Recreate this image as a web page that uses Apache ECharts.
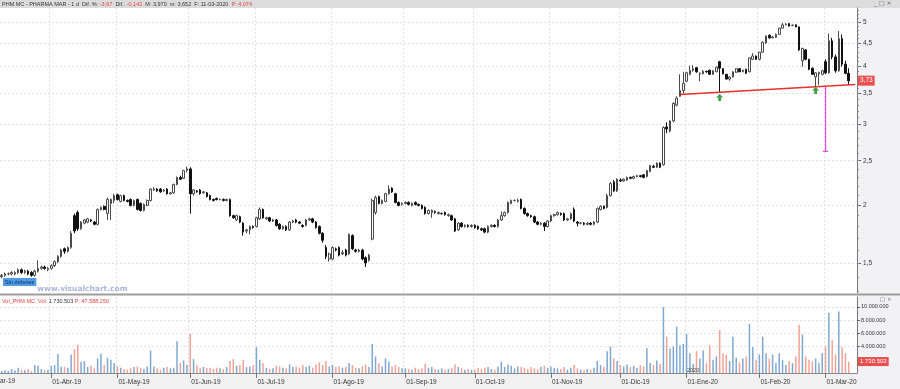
<!DOCTYPE html>
<html><head><meta charset="utf-8">
<script src="https://cdn.jsdelivr.net/npm/echarts@6/dist/echarts.min.js"></script>
<style>html,body{margin:0;padding:0;background:#fff}#c{width:900px;height:389px}</style>
</head><body><div id="c"></div>
<script>
// ---- candles: [open, close, low, high] per trading day ----
const candlesMar19 = [
[1.40,1.41,1.39,1.42],[1.41,1.42,1.40,1.43],[1.42,1.42,1.41,1.43],[1.42,1.43,1.41,1.44],[1.42,1.43,1.41,1.44],
[1.43,1.45,1.42,1.46],[1.45,1.43,1.42,1.46],[1.43,1.44,1.42,1.45],[1.44,1.42,1.41,1.45],[1.43,1.41,1.40,1.44],
[1.41,1.44,1.40,1.45],[1.44,1.46,1.43,1.52],[1.46,1.47,1.45,1.48],[1.47,1.46,1.45,1.48],[1.45,1.46,1.44,1.47]];
const candlesApr19 = [
[1.46,1.48,1.45,1.49],[1.48,1.51,1.47,1.52],[1.51,1.55,1.50,1.56],[1.55,1.60,1.54,1.61],[1.61,1.59,1.57,1.62],
[1.59,1.62,1.58,1.63],[1.62,1.74,1.61,1.76],[1.90,1.76,1.74,1.92],[1.93,1.78,1.76,1.95],[1.78,1.84,1.77,1.85],
[1.83,1.86,1.82,1.87],[1.84,1.87,1.83,1.88],[1.86,1.85,1.84,1.87],[1.84,1.82,1.81,1.85],[1.82,1.96,1.81,1.97],
[1.96,1.98,1.95,1.99],[1.99,1.96,1.95,2.00],[1.92,2.06,1.86,2.08],[2.02,2.06,1.86,2.07],[2.05,2.10,2.02,2.12]];
const candlesMay19 = [
[2.11,2.06,2.05,2.12],[2.04,2.10,2.03,2.11],[2.10,2.05,2.04,2.11],[2.05,2.04,2.03,2.06],[2.06,2.00,1.99,2.07],
[2.00,2.05,1.99,2.06],[2.06,1.96,1.95,2.07],[2.02,1.95,1.94,2.03],[1.95,2.01,1.94,2.02],[2.00,2.05,1.99,2.06],
[2.05,2.17,2.04,2.18],[2.16,2.17,2.15,2.19],[2.17,2.15,2.14,2.18],[2.17,2.14,2.13,2.18],[2.15,2.16,2.14,2.17],
[2.17,2.12,2.11,2.18],[2.12,2.13,2.11,2.14],[2.13,2.22,2.12,2.23],[2.22,2.30,2.21,2.31],[2.30,2.28,2.27,2.32],
[2.29,2.38,2.28,2.39],[2.38,2.40,2.36,2.43]];
const candlesJun19 = [
[2.40,2.12,1.92,2.42],[2.12,2.16,2.10,2.17],[2.15,2.14,2.13,2.16],[2.16,2.12,2.11,2.17],[2.13,2.14,2.12,2.15],
[2.13,2.09,2.08,2.14],[2.10,2.06,2.05,2.11],[2.06,2.05,2.04,2.07],[2.07,2.06,2.05,2.08],[2.06,2.06,2.05,2.07],
[2.06,2.05,2.04,2.07],[2.05,2.06,2.04,2.07],[2.06,1.90,1.89,2.07],[1.90,1.88,1.87,1.91],[1.86,1.90,1.85,1.91],
[1.89,1.84,1.83,1.90],[1.83,1.75,1.72,1.84],[1.76,1.77,1.74,1.78],[1.77,1.80,1.73,1.81],[1.80,1.79,1.78,1.81]];
const candlesJul19 = [
[1.80,1.88,1.79,1.89],[1.87,1.96,1.86,1.98],[1.96,1.88,1.87,1.97],[1.87,1.88,1.86,1.89],[1.88,1.85,1.84,1.89],
[1.85,1.86,1.84,1.87],[1.86,1.81,1.80,1.87],[1.82,1.78,1.77,1.83],[1.78,1.80,1.77,1.81],[1.80,1.77,1.76,1.81],
[1.77,1.84,1.76,1.85],[1.84,1.85,1.83,1.86],[1.86,1.84,1.83,1.87],[1.84,1.83,1.82,1.85],[1.81,1.80,1.79,1.82],
[1.81,1.86,1.80,1.87],[1.86,1.87,1.85,1.88],[1.87,1.84,1.83,1.88],[1.84,1.79,1.78,1.85],[1.80,1.74,1.73,1.81],
[1.74,1.68,1.66,1.75],[1.62,1.55,1.53,1.64],[1.53,1.57,1.51,1.58]];
const candlesAug19 = [
[1.53,1.62,1.52,1.63],[1.61,1.60,1.59,1.62],[1.62,1.56,1.55,1.63],[1.57,1.58,1.56,1.60],[1.60,1.56,1.55,1.61],
[1.57,1.73,1.56,1.74],[1.72,1.61,1.60,1.73],[1.60,1.59,1.58,1.61],[1.59,1.60,1.58,1.61],[1.60,1.53,1.52,1.61],
[1.54,1.50,1.47,1.55],[1.52,1.56,1.51,1.57],[1.69,2.05,1.68,2.07],[1.93,2.08,1.91,2.10],[2.09,2.02,2.01,2.10],
[2.02,2.05,2.01,2.06],[2.04,2.12,2.03,2.13],[2.12,2.17,2.11,2.21],[2.18,2.14,2.13,2.19],[2.12,2.03,2.02,2.13],
[2.03,2.00,1.99,2.04],[2.01,2.02,2.00,2.03]];
const candlesSep19 = [
[2.02,2.03,2.01,2.04],[2.03,2.01,2.00,2.04],[2.00,2.02,1.99,2.03],[2.03,2.01,2.00,2.04],[2.01,2.00,1.99,2.02],
[2.00,1.97,1.96,2.01],[1.98,1.92,1.91,1.99],[1.92,1.95,1.91,1.96],[1.93,1.95,1.88,1.96],[1.94,1.93,1.92,1.95],
[1.92,1.93,1.91,1.94],[1.92,1.92,1.91,1.93],[1.93,1.91,1.90,1.94],[1.90,1.91,1.89,1.92],[1.90,1.86,1.85,1.91],
[1.87,1.76,1.75,1.88],[1.77,1.83,1.76,1.84],[1.83,1.80,1.79,1.84],[1.80,1.81,1.79,1.82],[1.81,1.80,1.79,1.82],
[1.80,1.81,1.79,1.82]];
const candlesOct19 = [
[1.81,1.79,1.78,1.82],[1.80,1.78,1.77,1.81],[1.78,1.77,1.76,1.79],[1.78,1.75,1.74,1.79],[1.75,1.80,1.74,1.81],
[1.80,1.81,1.79,1.82],[1.81,1.80,1.79,1.82],[1.80,1.86,1.79,1.87],[1.86,1.90,1.85,1.94],[1.90,1.93,1.89,1.94],
[1.93,2.03,1.92,2.04],[2.02,2.05,2.01,2.06],[2.05,2.05,2.04,2.06],[2.04,2.05,2.03,2.07],[2.06,1.97,1.96,2.07],
[1.97,1.92,1.91,1.98],[1.92,1.90,1.89,1.93],[1.90,1.89,1.88,1.91],[1.89,1.84,1.83,1.90],[1.84,1.82,1.81,1.85],
[1.82,1.83,1.81,1.84],[1.83,1.80,1.76,1.84],[1.80,1.85,1.79,1.86]];
const candlesNov19 = [
[1.85,1.90,1.84,1.91],[1.90,1.91,1.89,1.92],[1.91,1.93,1.90,1.94],[1.92,1.91,1.90,1.93],[1.92,1.86,1.85,1.93],
[1.86,1.87,1.85,1.88],[1.87,1.92,1.86,1.93],[1.96,1.85,1.84,1.98],[1.84,1.83,1.80,1.85],[1.83,1.83,1.82,1.84],
[1.83,1.82,1.81,1.84],[1.82,1.83,1.81,1.84],[1.83,1.82,1.81,1.84],[1.82,1.84,1.81,1.85],[1.84,1.97,1.83,1.98],
[1.96,1.99,1.95,2.00],[1.99,1.97,1.96,2.00],[1.98,2.10,1.97,2.12],[2.10,2.23,2.09,2.25],[2.25,2.15,2.14,2.27],
[2.15,2.28,2.14,2.29]];
const candlesDec19 = [
[2.27,2.26,2.25,2.29],[2.26,2.28,2.25,2.29],[2.27,2.30,2.26,2.31],[2.30,2.29,2.28,2.31],[2.29,2.31,2.28,2.32],
[2.31,2.32,2.30,2.33],[2.32,2.31,2.30,2.33],[2.33,2.30,2.29,2.34],[2.31,2.38,2.30,2.39],[2.37,2.44,2.36,2.45],
[2.43,2.42,2.41,2.45],[2.42,2.47,2.41,2.48],[2.47,2.42,2.41,2.48],[2.45,2.95,2.44,2.97],[2.96,2.93,2.87,3.03],
[2.90,3.05,2.88,3.06],[3.05,3.33,3.03,3.35],[3.30,3.42,3.28,3.45],[3.45,3.55,3.44,3.85],[3.55,3.68,3.50,3.90]];
const candlesJan20 = [
[3.72,3.88,3.70,3.90],[3.85,3.93,3.83,4.02],[3.93,3.96,3.90,4.03],[3.98,3.90,3.88,3.99],[3.86,3.87,3.72,3.89],
[3.86,3.91,3.85,3.93],[3.91,3.90,3.88,3.92],[3.93,3.85,3.84,3.94],[3.85,3.92,3.84,3.93],[3.90,3.99,3.89,4.00],
[4.10,3.97,3.52,4.12],[3.96,3.86,3.85,3.97],[3.85,3.76,3.75,3.86],[3.76,3.80,3.73,3.81],[3.80,3.90,3.79,3.91],
[3.89,3.96,3.88,3.97],[3.96,3.90,3.89,3.97],[3.90,3.93,3.89,3.94],[3.95,3.87,3.86,3.96],[3.90,4.18,3.89,4.19],
[4.15,4.22,4.14,4.28],[4.22,4.15,4.14,4.23]];
const candlesFeb20 = [
[4.15,4.30,4.13,4.31],[4.30,4.52,4.29,4.54],[4.50,4.66,4.49,4.68],[4.68,4.62,4.60,4.70],[4.62,4.64,4.61,4.66],
[4.63,4.70,4.62,4.72],[4.70,4.85,4.69,4.86],[4.85,4.93,4.84,4.98],[4.93,4.95,4.92,4.97],[4.96,4.90,4.89,4.97],
[4.91,4.92,4.90,4.94],[4.93,4.88,4.87,4.94],[4.88,4.35,4.33,4.89],[4.12,4.38,4.00,4.40],[4.35,4.15,4.13,4.37],
[4.15,3.95,3.93,4.16],[3.97,3.85,3.84,3.98],[3.80,3.88,3.62,3.89],[3.86,3.89,3.65,3.90],[3.85,3.92,3.83,3.94]];
const candlesMar20 = [
[4.10,3.88,3.85,4.15],[3.88,4.55,3.86,4.72],[4.55,4.20,4.15,4.62],[4.20,3.92,3.88,4.25],
[3.92,4.60,3.90,4.78],[4.60,4.05,4.00,4.70],[4.05,3.87,3.85,4.12],[3.87,3.73,3.652,3.97]];

// ---- volume, millions of shares ----
const volMar19 = [0.3,0.4,0.3,0.6,0.4,0.8,0.5,0.4,0.6,0.3,1.2,1.1,0.6,0.4,0.5];
const volApr19 = [1.1,1.2,2.9,1.0,0.9,0.8,2.8,3.6,4.3,1.7,1.8,0.9,1.1,0.7,2.2,2.9,1.2,2.3,2.0,1.5];
const volMay19 = [1.0,0.8,0.6,0.5,0.7,0.9,1.0,0.8,0.6,1.0,3.4,1.0,0.7,0.5,0.8,0.9,0.7,0.8,4.8,1.5,1.9,1.2];
const volJun19 = [5.9,2.1,1.2,0.8,0.9,0.7,0.8,0.6,0.8,0.7,0.6,0.9,1.8,2.1,1.1,1.2,2.0,0.9,1.0,1.2];
const volJul19 = [3.9,2.0,1.5,0.8,0.6,0.7,1.1,1.0,0.8,0.7,1.3,0.9,1.0,0.8,1.2,0.9,1.1,0.8,1.3,1.6,1.2,1.8,1.0];
const volAug19 = [1.2,0.9,1.0,0.8,0.9,1.5,1.2,0.8,0.7,1.0,1.3,0.9,4.4,2.5,1.5,1.0,2.2,1.7,1.0,1.2,0.9,0.7];
const volSep19 = [0.7,0.6,0.5,0.8,0.6,0.7,1.4,0.8,0.9,0.6,0.5,0.7,0.5,0.6,0.8,1.3,0.9,0.7,0.5,0.6,0.5];
const volOct19 = [0.5,0.7,0.6,0.8,0.9,0.6,0.5,1.0,1.7,0.9,1.3,1.1,0.7,1.0,0.9,0.8,0.6,0.9,0.7,0.6,0.9,1.1,0.8];
const volNov19 = [1.0,0.8,0.7,0.6,0.9,0.5,0.8,1.2,0.7,0.5,0.4,0.6,0.5,0.8,1.8,1.2,1.0,3.3,4.0,2.2,1.8];
const volDec19 = [1.2,1.0,1.3,0.9,1.1,0.8,1.2,1.0,3.8,1.5,1.2,1.9,1.4,10.0,5.5,3.7,4.0,7.0,4.2,4.4];
const volJan20 = [5.9,3.0,1.4,3.3,2.2,3.4,1.5,4.2,2.0,2.5,6.5,3.0,2.8,1.8,5.5,2.3,1.6,2.2,2.5,7.4,3.9,2.0];
const volFeb20 = [2.8,5.5,3.0,2.2,2.8,1.5,3.0,2.0,1.2,1.8,1.5,2.5,7.3,5.8,2.5,2.0,1.8,2.2,1.5,3.0];
const volMar20 = [4.0,9.1,5.0,2.8,9.3,3.9,3.0,1.730503];

// ---- ticks / labels ----
const priceTicks = [1.5,2,2.5,3,3.5,4,4.5,5];
const priceMinorTicks = [1.3,1.4,1.5,1.6,1.7,1.8,1.9,2.0,2.1,2.2,2.3,2.4,2.5,2.6,2.7,2.8,2.9,3.0,3.1,3.2,3.3,3.4,3.5,3.6,3.7,3.8,3.9,4.0,4.1,4.2,4.3,4.4,4.5,4.6,4.7,4.8,4.9,5.0,5.1,5.2,5.3];
const volTicks = [4,6,8,10];
const monthAbbr = ['Ene','Feb','Mar','Abr','May','Jun','Jul','Ago','Sep','Oct','Nov','Dic'];
const holidays = ['2019-04-19','2019-04-22','2019-05-01','2019-12-25','2019-12-26','2020-01-01'];
const lastPriceLabel = '3,73';
const lastVolLabel = '1.730.503';
const trendStart = 3.48, trendEnd = 3.66;
const arrowLevels = [3.43, 3.55];
const measureTop = 3.62, measureBottom = 2.62;

// ---- build ----
const candles = [].concat(candlesMar19,candlesApr19,candlesMay19,candlesJun19,candlesJul19,candlesAug19,
  candlesSep19,candlesOct19,candlesNov19,candlesDec19,candlesJan20,candlesFeb20,candlesMar20);
const volumes = [].concat(volMar19,volApr19,volMay19,volJun19,volJul19,volAug19,volSep19,volOct19,
  volNov19,volDec19,volJan20,volFeb20,volMar20);
const dates = [];
for (let t = Date.UTC(2019,2,11); t <= Date.UTC(2020,2,11); t += 86400000) {
  const d = new Date(t), wd = d.getUTCDay(), s = d.toISOString().slice(0,10);
  if (wd === 0 || wd === 6 || holidays.includes(s)) continue;
  dates.push(s);
}
const cats = dates.concat(['pad1','pad2']);
const isMonthStart = i => i > 0 && i < dates.length && dates[i].slice(5,7) !== dates[i-1].slice(5,7);
const fmtDate = v => { if (v.indexOf('pad') === 0) return ''; const m = +v.slice(5,7); return '01-' + monthAbbr[m-1] + '-' + v.slice(2,4); };
const fmtThousands = n => String(Math.round(n)).replace(/\B(?=(\d{3})+(?!\d))/g, '.');
const volData = volumes.map((v,i) => ({value: v, itemStyle: {color: candles[i][1] >= candles[i][0] ? '#7ea7d0' : '#f2a196'}}));
const FONT = 'Liberation Sans';
const CLEAR = 'rgba(0,0,0,0)';

const chart = echarts.init(document.getElementById('c'), null, {renderer: 'canvas'});
chart.setOption({
  animation: false,
  backgroundColor: '#ffffff',
  textStyle: {fontFamily: FONT},
  grid: [
    {left: 0, right: 43, top: 8, height: 285},
    {left: 0, right: 43, top: 297, height: 76}
  ],
  xAxis: [
    {type: 'category', gridIndex: 0, data: cats, boundaryGap: true,
     axisLine: {show: false}, axisTick: {show: false}, axisLabel: {show: false},
     splitLine: {show: true, interval: (i) => isMonthStart(i), lineStyle: {color: '#e2e2e2', type: [2,2], width: 1}}},
    {type: 'category', gridIndex: 1, data: cats, boundaryGap: true,
     axisLine: {show: true, lineStyle: {color: '#8a8a8a', width: 1}},
     axisTick: {show: true, alignWithLabel: true, interval: (i) => isMonthStart(i), length: 5, lineStyle: {color: '#777'}},
     axisLabel: {show: true, interval: (i) => isMonthStart(i), formatter: fmtDate, align: 'left', margin: 6,
                 fontSize: 6.5, color: '#333', fontFamily: FONT, padding: [0,0,0,1]},
     splitLine: {show: true, interval: (i) => isMonthStart(i), lineStyle: {color: '#e2e2e2', type: [2,2], width: 1}}}
  ],
  yAxis: [
    {type: 'log', logBase: 10, gridIndex: 0, position: 'right', min: 1.291, max: 5.363,
     axisLine: {show: true, onZero: false, lineStyle: {color: '#777', width: 1}},
     axisTick: {show: true, customValues: priceTicks, length: 4, lineStyle: {color: '#666'}},
     axisLabel: {show: true, customValues: priceTicks, margin: 6, fontSize: 6.5, color: '#333', fontFamily: FONT,
                 formatter: v => String(+(+v).toFixed(2)).replace('.', ',')},
     splitLine: {show: true, lineStyle: {color: '#e2e2e2', type: [2,2], width: 1}}},
    {type: 'log', logBase: 10, gridIndex: 0, position: 'right', min: 1.291, max: 5.363,
     axisLine: {show: false}, axisLabel: {show: false}, splitLine: {show: false},
     axisTick: {show: true, customValues: priceMinorTicks, length: 2, lineStyle: {color: '#888'}}},
    {type: 'value', gridIndex: 1, position: 'right', min: 0, max: 11.5, interval: 2,
     axisLine: {show: true, lineStyle: {color: '#777', width: 1}},
     axisTick: {show: true, customValues: volTicks, length: 3, lineStyle: {color: '#666'}},
     axisLabel: {show: true, customValues: volTicks, margin: 4, fontSize: 5.5, color: '#333', fontFamily: FONT,
                 formatter: v => fmtThousands(v * 1e6)},
     splitLine: {show: true, lineStyle: {color: '#e2e2e2', type: [2,2], width: 1}}}
  ],
  series: [
    {type: 'candlestick', xAxisIndex: 0, yAxisIndex: 0, data: candles, barWidth: '62%',
     itemStyle: {color: '#ffffff', color0: '#111111', borderColor: '#4a4a4a', borderColor0: '#111111', borderWidth: 1},
     markLine: {silent: true, symbol: ['none','none'], animation: false,
       data: [
         [{coord: [cats[205], trendStart], lineStyle: {color: '#e8302c', width: 1.5}},
          {coord: [cats[258], trendEnd], lineStyle: {color: '#e8302c', width: 1.5}}],
         {yAxis: candles[candles.length-1][1], lineStyle: {color: CLEAR, width: 0},
          label: {show: true, position: 'end', distance: 1, formatter: lastPriceLabel, color: '#ffffff',
                  backgroundColor: '#e8504f', padding: [2,2,1,2], fontSize: 6.5, fontFamily: FONT}}
       ],
       lineStyle: {type: 'solid'},
       label: {show: false}},
     markPoint: {silent: true, animation: false, label: {show: false},
       data: [
         {coord: [cats[217], arrowLevels[0]], symbol: 'path://M5,0 L10,5 L7,5 L7,10 L3,10 L3,5 L0,5 Z', symbolSize: [7,7], itemStyle: {color: '#3aa443'}},
         {coord: [cats[246], arrowLevels[1]], symbol: 'path://M5,0 L10,5 L7,5 L7,10 L3,10 L3,5 L0,5 Z', symbolSize: [7,7], itemStyle: {color: '#3aa443'}}
       ]}},
    {type: 'line', xAxisIndex: 0, yAxisIndex: 0, silent: true, z: 4,
     data: [[cats[249], measureTop], [cats[249], measureBottom]],
     showSymbol: false, symbol: 'none', lineStyle: {color: '#e046e0', width: 1.2}, itemStyle: {color: '#e046e0'},
     markPoint: {silent: true, animation: false, label: {show: false},
       data: [{coord: [cats[249], measureBottom], symbol: 'rect', symbolSize: [5,1.2], itemStyle: {color: '#e046e0'}}]}},
    {type: 'bar', xAxisIndex: 1, yAxisIndex: 2, data: volData, barWidth: '45%',
     markLine: {silent: true, symbol: ['none','none'], animation: false,
       data: [{yAxis: volumes[volumes.length-1], lineStyle: {color: CLEAR, width: 0},
         label: {show: true, position: 'end', distance: 1, formatter: lastVolLabel, color: '#ffffff',
                 backgroundColor: '#e8504f', padding: [2,2,1,2], fontSize: 6, fontFamily: FONT}}]}}
  ],
  graphic: [
    {type: 'rect', z: -10, silent: true, shape: {x: 0, y: 0, width: 900, height: 8}, style: {fill: '#dcdcdc'}},
    {type: 'rect', z: -10, silent: true, shape: {x: 857, y: 8, width: 43, height: 381}, style: {fill: '#f2f2f4'}},
    {type: 'rect', z: -10, silent: true, shape: {x: 0, y: 373, width: 857, height: 16}, style: {fill: '#f1f1f1'}},
    {type: 'rect', z: 10, silent: true, shape: {x: 0, y: 293.5, width: 900, height: 2}, style: {fill: '#9d9d9d'}},
    {type: 'text', z: 10, silent: true, x: 2, y: 1, style: {
      text: '{a|PHM.MC - PHARMA MAR - 1 d  Dif. %: }{r|-3,67}{a|  Dif.: }{r|-0,142}{a|  M: 3,970  m: 3,652  F: 11-03-2020  }{r|P: 4,074}',
      rich: {a: {fontSize: 5.5, fill: '#333', fontFamily: FONT}, r: {fontSize: 5.5, fill: '#e8433f', fontFamily: FONT}}}},
    {type: 'text', z: 10, silent: true, x: 874, y: 0, style: {text: '_ □ ×', fontSize: 6, fill: '#666', fontFamily: 'DejaVu Sans'}},
    {type: 'text', z: 10, silent: true, x: 880, y: 297, style: {text: '□ ×', fontSize: 5.5, fill: '#666', fontFamily: 'DejaVu Sans'}},
    {type: 'text', z: 10, silent: true, x: 2, y: 298, style: {
      text: '{r|Vol_PHM.MC  Vol: }{a|1.730.503 }{r|P: 47.588.250}',
      rich: {a: {fontSize: 5.5, fill: '#333', fontFamily: FONT}, r: {fontSize: 5.5, fill: '#e8433f', fontFamily: FONT}}}},
    {type: 'text', z: 10, silent: true, x: 3, y: 278, style: {text: 'Sin órdenes', fontSize: 5.5, fill: '#0b2c5c',
      backgroundColor: '#4f9be6', padding: [1,2,1,2], fontFamily: FONT}},
    {type: 'text', z: 10, silent: true, x: 37, y: 285, style: {text: 'www.visualchart.com', fontSize: 7.5, fontWeight: 'bold', fill: '#a9b5dd', fontFamily: 'DejaVu Sans'}},
    {type: 'text', z: 10, silent: true, x: 687, y: 367, style: {text: '2020', fontSize: 5.5, fill: '#444', fontFamily: FONT}},
    {type: 'text', z: 10, silent: true, x: 0, y: 378, style: {text: 'ar-19', fontSize: 6.5, fill: '#333', fontFamily: FONT}}
  ]
});
</script>
</body></html>
